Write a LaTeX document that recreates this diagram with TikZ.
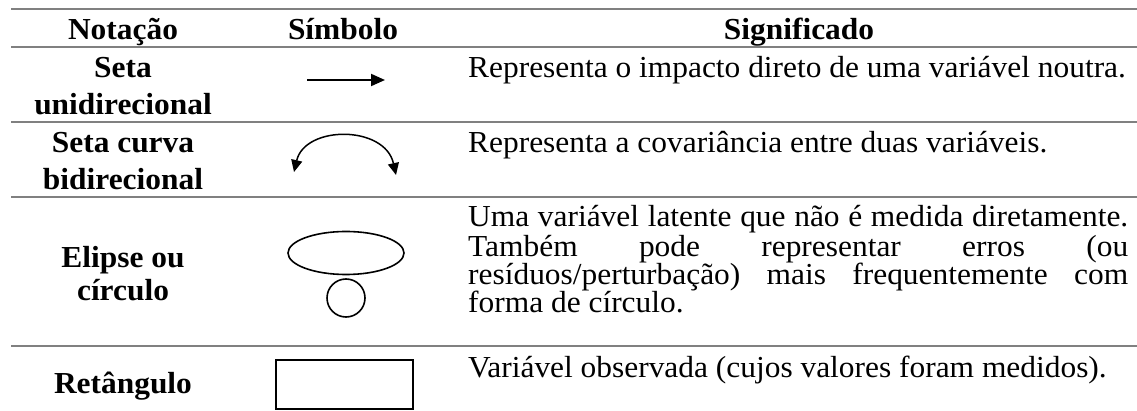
\documentclass[tikz,border=0pt]{standalone}
\usepackage{fontspec}
\setmainfont{Liberation Serif}[FakeStretch=1.03]
\usetikzlibrary{arrows.meta,shapes.geometric,positioning,calc}
\newcommand{\linha}[1]{\makebox[660pt][s]{#1}}
\tikzset{
	head/.style={
		font=\fontsize{30.5}{30.5}\selectfont\bfseries,
		anchor=base,
		inner sep=0pt,
	},
	desc/.style={
		font=\fontsize{30.5}{29}\selectfont,
		anchor=base west,
		inner sep=0pt,
	},
	hrule/.style={
		draw=gray,
		line width=1.5pt,
	},
	symb/.style={
		draw=black,
		line width=1.6pt,
		inner sep=0pt,
	},
}
\begin{document}
\begin{tikzpicture}[x=1pt, y=-1pt, >={Triangle[length=14pt,width=12pt]}]
				\useasboundingbox (0,0) rectangle (1137,411);
				% rules
				\foreach \y in {9,47,122,197,346}
					\draw[hrule] (11,\y) -- (1137,\y);
				
				% header
				\node [head] (h-not) at (123,40) {Notação};
				\node [head] (h-sim) at (343,40) {Símbolo};
				\node [head] (h-sig) at (799,40) {Significado};
				
				% first column
				\node [head] (seta1) at (123,78) {Seta};
				\node [head] (unidir) at (123,115) {unidirecional};
				\node [head] (seta2) at (123,153) {Seta curva};
				\node [head] (bidir) at (123,190) {bidirecional};
				\node [head] (elipse) at (123,268) {Elipse ou};
				\node [head] (circulo) at (123,301) {círculo};
				\node [head] (retang) at (123,393) {Retângulo};
				
				% symbols
				\coordinate (ua-s) at (307,80);
				\coordinate (ua-e) at (385,80);
				\draw[->, line width=2pt] (ua-s) -- (ua-e);
				\coordinate (cb-l) at (294,172);
				\coordinate (cb-r) at (396,175);
				\draw[<->, >={Triangle[length=12pt,width=11pt]}, line width=1.5pt]
					(cb-l) .. controls (305,125) and (385,125) .. (cb-r);
				\node [ellipse, symb, minimum width=116pt, minimum height=43pt] (latente) at (346,253) {};
				\node [circle, symb, minimum size=38pt] (erro) at (346,298) {};
				\node [rectangle, symb, line width=2pt, minimum width=137pt, minimum height=49pt] (observ) at (344.5,384.5) {};
				
				% meaning
				\node [desc] (d-uni) at (468,78) {Representa o impacto direto de uma variável noutra.};
				\node [desc] (d-bi) at (468,153) {Representa a covariância entre duas variáveis.};
				\node [desc] (d-lat1) at (468,227) {\linha{Uma variável latente que não é medida diretamente.}};
				\node [desc] (d-lat2) at (468,257) {\linha{Também pode representar erros (ou}};
				\node [desc] (d-lat3) at (468,285) {\linha{resíduos/perturbação) mais frequentemente com}};
				\node [desc] (d-lat4) at (468,313) {forma de círculo.};
				\node [desc] (d-obs) at (468,377) {Variável observada (cujos valores foram medidos).};
			\end{tikzpicture}
\end{document}
